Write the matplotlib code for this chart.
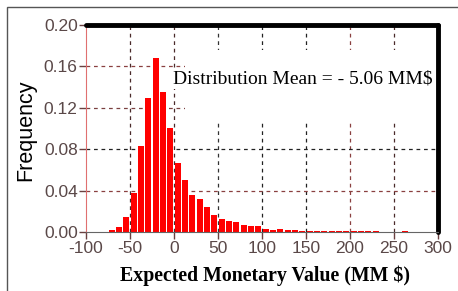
import matplotlib
matplotlib.use("Agg")
from matplotlib import pyplot as plt
from matplotlib.patches import Rectangle

plt.rcParams["axes.unicode_minus"] = False

# Histogram of expected monetary value (bin centres, MM $) and frequencies
bin_centers = [-70.8, -62.5, -54.2, -45.8, -37.5, -29.2, -20.8, -12.5, -4.2,
               4.2, 12.5, 20.8, 29.2, 37.5, 45.8, 54.2, 62.5, 70.8, 79.2,
               87.5, 95.8, 104.2, 112.5, 120.8, 129.2, 137.5, 145.8, 154.2,
               162.5, 170.8, 179.2, 187.5, 195.8, 204.2, 212.5, 220.8, 229.2,
               262.5]
frequency = [0.002, 0.005, 0.015, 0.038, 0.083, 0.130, 0.168, 0.135, 0.101,
             0.067, 0.050, 0.036, 0.032, 0.024, 0.017, 0.013, 0.011, 0.010,
             0.007, 0.006, 0.006, 0.0035, 0.0023, 0.003, 0.002, 0.002, 0.0013,
             0.001, 0.001, 0.001, 0.001, 0.001, 0.001, 0.001, 0.001, 0.001,
             0.001, 0.0012]
bin_width = 25 / 3

x_ticks = [-100, -50, 0, 50, 100, 150, 200, 250, 300]
y_ticks = [0.00, 0.04, 0.08, 0.12, 0.16, 0.20]
mean_label = "Distribution Mean = - 5.06 MM$"

fig = plt.figure(figsize=(4.58, 2.91), dpi=100)
fig.patches.append(Rectangle((7 / 458, -0.1), 1.2, 1 - 7 / 291 + 0.1,
                             transform=fig.transFigure, fill=False,
                             edgecolor="#555555", linewidth=1))
ax = fig.add_axes([86 / 458, 58.7 / 291, 352 / 458, 207.3 / 291])

# dashed grid, mix of brown-red and dark lines
grid_v = {-50: "#4a2a2a", 0: "#4a2a2a", 50: "#333333", 100: "#222222",
          150: "#222222", 200: "#8a4040", 250: "#4a2a2a"}
grid_h = {0.04: "#8a4040", 0.08: "#222222", 0.12: "#7a4040", 0.16: "#8a4040"}
for xv, c in grid_v.items():
    ax.axvline(xv, color=c, linestyle=(0, (3, 3)), linewidth=0.9, zorder=1)
for yv, c in grid_h.items():
    ax.axhline(yv, color=c, linestyle=(0, (3, 3)), linewidth=0.9, zorder=1)

ax.bar(bin_centers, frequency, width=bin_width * 0.78, color="#ff0000",
       zorder=2)

# white patch behind the annotation, hiding the grid there
ax.add_patch(Rectangle((12.5, 0.107), 287, 0.069, facecolor="white",
                       edgecolor="none", zorder=1.5))
ax.text(-1.5, 0.148, mean_label, family="Liberation Serif", fontsize=14,
        va="center", ha="left", zorder=3,
        bbox=dict(facecolor="white", edgecolor="none", pad=1))

ax.set_xlim(-100, 300)
ax.set_ylim(0, 0.2)
ax.set_xticks(x_ticks)
ax.set_yticks(y_ticks)
ax.set_yticklabels([f"{v:.2f}" for v in y_ticks])
ax.tick_params(labelsize=12.5, labelcolor="#5a4848", color="#6a4040",
               length=5, width=1, pad=1)
for lab in ax.get_xticklabels() + ax.get_yticklabels():
    lab.set_family("Liberation Sans")

ax.spines["left"].set_color("#e07070")
ax.spines["bottom"].set_color("#666666")
for side in ("top", "right"):
    ax.spines[side].set_color("black")
    ax.spines[side].set_linewidth(3.5)
    ax.spines[side].set_capstyle("round")

ax.set_ylabel("Frequency", family="Liberation Sans", fontsize=15.5)
ax.yaxis.set_label_coords((26 - 86) / 352, 0.49)
ax.set_xlabel("Expected Monetary Value (MM $)", family="Liberation Serif",
              fontweight="bold", fontsize=14.3)
ax.xaxis.set_label_coords((265 - 86) / 352, (232.3 - 276) / 207.3)
ax.xaxis.label.set_va("center")
ax.yaxis.label.set_va("center")

fig.savefig("out.png", dpi=100)
